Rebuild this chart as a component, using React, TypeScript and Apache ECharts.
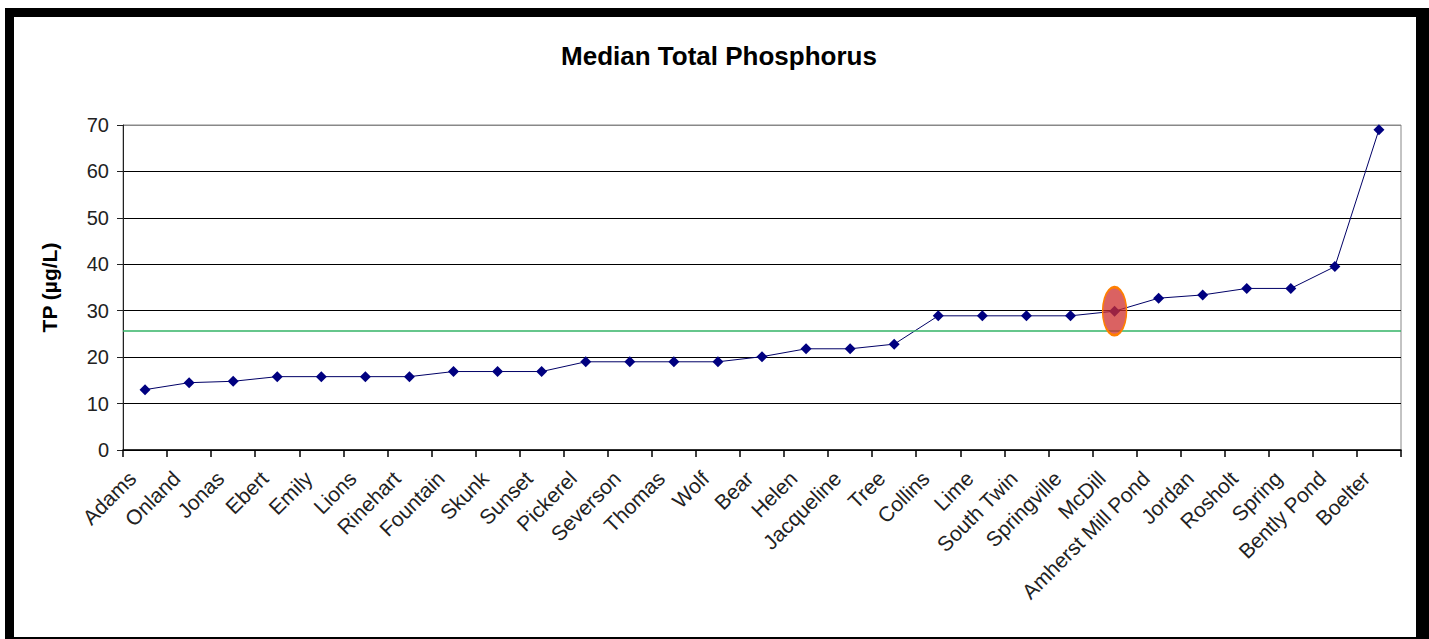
import React, { useEffect, useRef } from "react";
import * as echarts from "echarts";

const titleText = "Median Total Phosphorus";
const yAxisName = "TP (µg/L)";
const lakes = [
  "Adams", "Onland", "Jonas", "Ebert", "Emily", "Lions", "Rinehart", "Fountain",
  "Skunk", "Sunset", "Pickerel", "Severson", "Thomas", "Wolf", "Bear", "Helen",
  "Jacqueline", "Tree", "Collins", "Lime", "South Twin", "Springville", "McDill",
  "Amherst Mill Pond", "Jordan", "Rosholt", "Spring", "Bently Pond", "Boelter",
];
const medianTP = [
  13, 14.5, 14.8, 15.8, 15.8, 15.8, 15.8, 16.9,
  16.9, 16.9, 19, 19, 19, 19, 20.1, 21.8,
  21.8, 22.8, 28.9, 28.9, 28.9, 28.9, 29.9,
  32.7, 33.4, 34.8, 34.8, 39.5, 69,
];
const thresholdTP = 25.6;
const highlightLake = "McDill";
const yMin = 0;
const yMax = 70;
const yStep = 10;

export default function App() {
  const ref = useRef<HTMLDivElement>(null);
  useEffect(() => {
    if (!ref.current) return;
    const chart = echarts.init(ref.current, null, { renderer: "svg" });
    const hiIdx = lakes.indexOf(highlightLake);
    chart.setOption({
      animation: false,
      backgroundColor: "transparent",
      title: {
        text: titleText,
        left: 714,
        textAlign: "center",
        top: 38,
        textStyle: { fontFamily: "Arial, Liberation Sans", fontWeight: "bold", fontSize: 26, color: "#000" },
      },
      grid: {
        left: 123, right: 28, top: 125, bottom: 189,
        show: true, borderColor: "#888", borderWidth: 1, backgroundColor: "transparent",
      },
      xAxis: {
        type: "category",
        data: lakes,
        boundaryGap: true,
        axisLine: { lineStyle: { color: "#000", width: 1.5 } },
        axisTick: { show: true, length: 7, inside: false, lineStyle: { color: "#000", width: 1.5 } },
        axisLabel: {
          interval: 0, rotate: 45, margin: 12,
          padding: [0, 18, 0, 0],
          fontFamily: "Arial, Liberation Sans", fontSize: 21, color: "#222",
        },
      },
      yAxis: {
        type: "value",
        min: yMin, max: yMax, interval: yStep,
        name: yAxisName,
        nameLocation: "middle",
        nameGap: 63,
        nameRotate: 90,
        nameTextStyle: { fontFamily: "Arial, Liberation Sans", fontWeight: "bold", fontSize: 21, color: "#000" },
        axisLine: { show: true, lineStyle: { color: "#222", width: 1 } },
        axisTick: { show: true, length: 6, lineStyle: { color: "#222" } },
        axisLabel: { fontFamily: "Arial, Liberation Sans", fontSize: 20, color: "#222", margin: 14 },
        splitLine: {
          show: true,
          lineStyle: { color: ["#000", "#000", "#000", "#000", "#000", "#000", "#000", "#888"], width: 1 },
        },
      },
      series: [
        {
          type: "line",
          data: medianTP,
          symbol: "diamond",
          symbolSize: 11,
          lineStyle: { color: "#000066", width: 1 },
          itemStyle: { color: "#000080" },
          markLine: {
            silent: true,
            symbol: "none",
            label: { show: false },
            lineStyle: { color: "#33b366", type: "solid", width: 1.5 },
            data: [{ yAxis: thresholdTP }],
          },
          markPoint: {
            silent: true,
            symbol: "circle",
            symbolSize: [24, 48],
            label: { show: false },
            itemStyle: { color: "rgba(205,45,45,0.75)", borderColor: "#ff7f00", borderWidth: 2 },
            data: [{ coord: [hiIdx, medianTP[hiIdx]] }],
          },
        },
      ],
    });
    return () => chart.dispose();
  }, []);
  return (
    <div style={{ position: "fixed", left: 0, top: 0, width: 1429, height: 639, background: "#fff" }}>
      <div
        style={{
          position: "absolute", left: 5, top: 8, width: 1424, height: 631,
          boxSizing: "border-box",
          borderLeft: "9px solid #000", borderTop: "9px solid #000",
          borderRight: "13px solid #000", borderBottom: "2px solid #000",
        }}
      />
      <div ref={ref} style={{ position: "absolute", left: 0, top: 0, width: 1429, height: 639 }} />
    </div>
  );
}
